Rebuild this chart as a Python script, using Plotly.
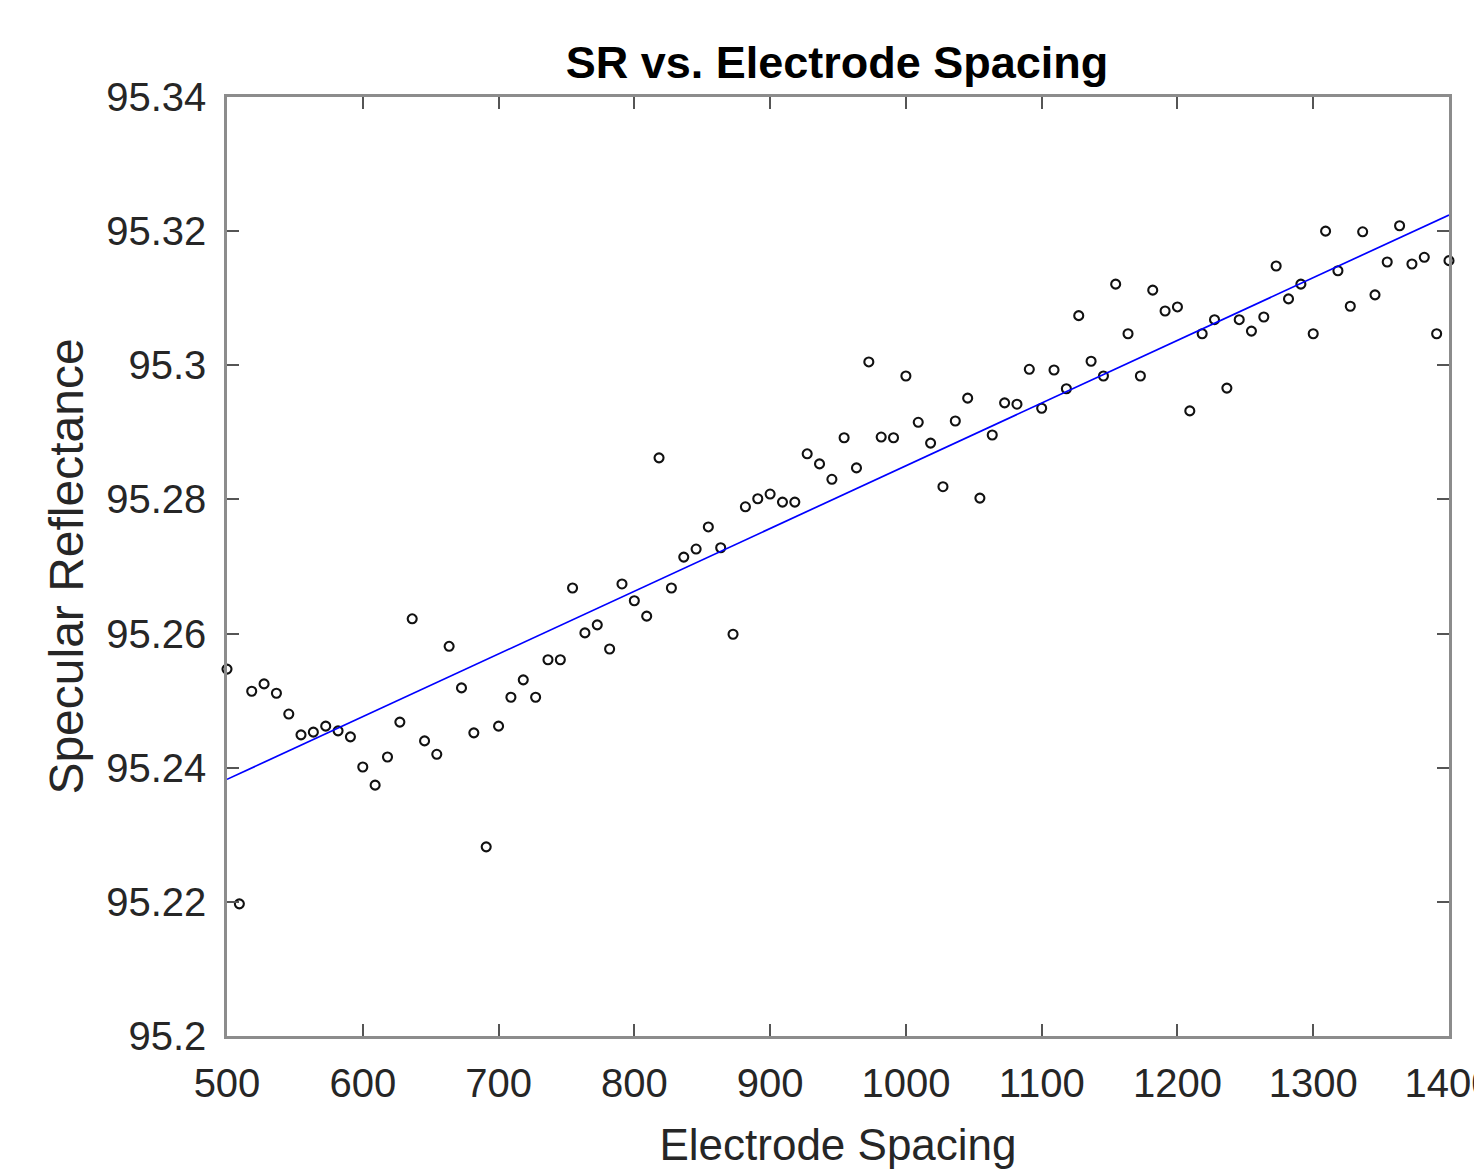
import numpy as np
import plotly.graph_objects as go

electrode_spacing = [
    500.0, 509.1, 518.2, 527.3, 536.4, 545.5, 554.5, 563.6, 572.7, 581.8,
    590.9, 600.0, 609.1, 618.2, 627.3, 636.4, 645.5, 654.5, 663.6, 672.7,
    681.8, 690.9, 700.0, 709.1, 718.2, 727.3, 736.4, 745.5, 754.5, 763.6,
    772.7, 781.8, 790.9, 800.0, 809.1, 818.2, 827.3, 836.4, 845.5, 854.5,
    863.6, 872.7, 881.8, 890.9, 900.0, 909.1, 918.2, 927.3, 936.4, 945.5,
    954.5, 963.6, 972.7, 981.8, 990.9, 1000.0, 1009.1, 1018.2, 1027.3, 1036.4,
    1045.5, 1054.5, 1063.6, 1072.7, 1081.8, 1090.9, 1100.0, 1109.1, 1118.2, 1127.3,
    1136.4, 1145.5, 1154.5, 1163.6, 1172.7, 1181.8, 1190.9, 1200.0, 1209.1, 1218.2,
    1227.3, 1236.4, 1245.5, 1254.5, 1263.6, 1272.7, 1281.8, 1290.9, 1300.0, 1309.1,
    1318.2, 1327.3, 1336.4, 1345.5, 1354.5, 1363.6, 1372.7, 1381.8, 1390.9, 1400.0,
]

specular_reflectance = [
    95.2547, 95.2197, 95.2514, 95.2525, 95.2511, 95.2480, 95.2449, 95.2453, 95.2462, 95.2455,
    95.2446, 95.2401, 95.2374, 95.2416, 95.2468, 95.2622, 95.2440, 95.2420, 95.2581, 95.2519,
    95.2452, 95.2282, 95.2462, 95.2505, 95.2531, 95.2505, 95.2561, 95.2561, 95.2668, 95.2601,
    95.2613, 95.2577, 95.2674, 95.2649, 95.2626, 95.2862, 95.2668, 95.2714, 95.2726, 95.2759,
    95.2728, 95.2599, 95.2789, 95.2801, 95.2808, 95.2796, 95.2796, 95.2868, 95.2853, 95.2830,
    95.2892, 95.2847, 95.3005, 95.2893, 95.2892, 95.2984, 95.2915, 95.2884, 95.2819, 95.2917,
    95.2951, 95.2802, 95.2896, 95.2944, 95.2942, 95.2994, 95.2936, 95.2993, 95.2965, 95.3074,
    95.3006, 95.2984, 95.3121, 95.3047, 95.2984, 95.3112, 95.3081, 95.3087, 95.2932, 95.3047,
    95.3068, 95.2966, 95.3068, 95.3051, 95.3072, 95.3148, 95.3099, 95.3121, 95.3047, 95.3200,
    95.3141, 95.3088, 95.3199, 95.3105, 95.3154, 95.3208, 95.3151, 95.3161, 95.3047, 95.3156,
]

x_ticks = [500, 600, 700, 800, 900, 1000, 1100, 1200, 1300, 1400]
y_ticks = [95.2, 95.22, 95.24, 95.26, 95.28, 95.3, 95.32, 95.34]
y_tick_labels = ["95.2", "95.22", "95.24", "95.26", "95.28", "95.3", "95.32", "95.34"]

xs = np.array(electrode_spacing)
ys = np.array(specular_reflectance)
slope, intercept = np.polyfit(xs, ys, 1)
fit_x = [min(electrode_spacing), max(electrode_spacing)]
fit_y = [slope * v + intercept for v in fit_x]

FONT = "Liberation Sans, Arial, sans-serif"
TXT = "#262626"
W, H = 1474, 1166

fig = go.Figure()
fig.add_trace(go.Scatter(
    x=electrode_spacing, y=specular_reflectance, mode="markers",
    marker=dict(symbol="circle-open", size=9, color="#111111", line=dict(width=2.1, color="#111111")),
    cliponaxis=False, showlegend=False,
))
fig.add_trace(go.Scatter(
    x=fit_x, y=fit_y, mode="lines",
    line=dict(color="#0000ff", width=1.7),
    showlegend=False,
))

axis_common = dict(
    showline=True, linecolor="#8c8c8c", linewidth=2.5, mirror="ticks",
    ticks="inside", ticklen=12, tickwidth=1.5, tickcolor="#555555",
    showgrid=False, zeroline=False, automargin=False,
    ticklabeloverflow="allow",
    tickfont=dict(family=FONT, size=40, color=TXT),
)

fig.update_layout(
    width=W, height=H,
    margin=dict(l=219, r=33, t=89, b=138),
    paper_bgcolor="white", plot_bgcolor="white",
    title=dict(text="<b>SR vs. Electrode Spacing</b>", x=829 / W, xanchor="center",
               y=1 - 54 / H, yanchor="middle", automargin=False,
               font=dict(family=FONT, size=45, color="black")),
    xaxis=dict(range=[500, 1400], tickvals=x_ticks, ticklabelstandoff=10,
               title=dict(text="Electrode Spacing", standoff=26,
                          font=dict(family=FONT, size=44, color=TXT)),
               **axis_common),
    yaxis=dict(range=[95.2, 95.34], tickvals=y_ticks, ticktext=y_tick_labels,
               ticklabelstandoff=10,
               title=dict(text="Specular Reflectance", standoff=8,
                          font=dict(family=FONT, size=48, color=TXT)),
               **axis_common),
)

fig.write_html("out.html")
